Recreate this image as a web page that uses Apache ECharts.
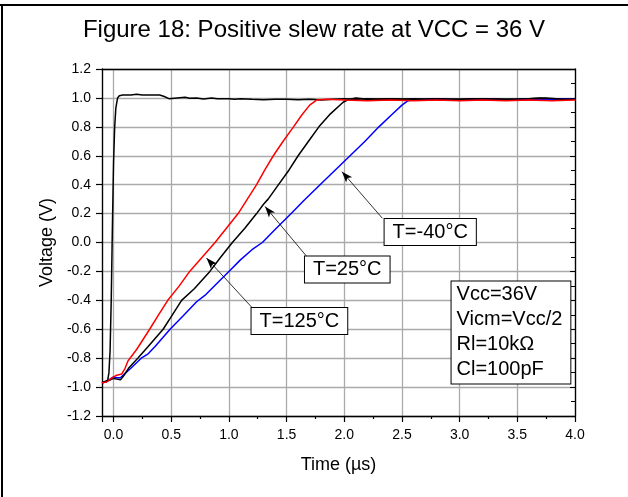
<!DOCTYPE html>
<html>
<head>
<meta charset="utf-8">
<script src="https://cdn.jsdelivr.net/npm/echarts@6/dist/echarts.min.js"></script>
<style>html,body{margin:0;padding:0;background:#fff;}#c{width:628px;height:497px;}</style>
</head>
<body>
<div id="c"></div>
<script>
// ---- data (time in µs, voltage in V) ----
const inputStep = [[-0.1,-0.97],[-0.07,-0.965],[-0.05,-0.95],[-0.04,-0.9],[-0.03,-0.75],[-0.02,-0.4],[-0.01,0.1],[0.0,0.55],[0.01,0.8],[0.02,0.93],[0.035,1.0],[0.05,1.015],[0.08,1.02],[0.15,1.02],[0.2,1.025],[0.25,1.02],[0.3,1.02],[0.35,1.02],[0.4,1.02],[0.44,1.01],[0.48,0.995],[0.55,1.0],[0.62,1.005],[0.66,0.998],[0.72,1.0],[0.78,0.993],[0.85,1.0],[0.9,0.995],[1.0,0.995],[1.05,0.99],[1.1,0.995],[1.2,0.99],[1.3,0.987],[1.4,0.99],[1.5,0.99],[1.6,0.987],[1.7,0.99],[1.8,0.985],[1.9,0.99],[2.0,0.995],[2.1,0.99],[2.2,0.995],[2.3,0.99],[2.4,0.993],[2.5,0.99],[2.6,0.995],[2.7,0.99],[2.8,0.995],[2.9,0.99],[3.0,0.99],[3.1,0.995],[3.2,0.99],[3.3,0.993],[3.4,0.99],[3.5,0.99],[3.6,0.995],[3.7,1.0],[3.8,0.99],[3.9,0.995],[4.0,0.99]];
const out125 = [[-0.1,-0.97],[-0.06,-0.965],[-0.02,-0.94],[0.02,-0.92],[0.07,-0.91],[0.1,-0.87],[0.125,-0.82],[0.2,-0.74],[0.313,-0.6],[0.39,-0.5],[0.47,-0.4],[0.57,-0.3],[0.66,-0.2],[0.77,-0.1],[0.88,0.0],[0.98,0.1],[1.08,0.2],[1.16,0.3],[1.24,0.4],[1.31,0.5],[1.385,0.6],[1.47,0.7],[1.56,0.8],[1.63,0.88],[1.7,0.95],[1.76,0.985],[1.85,0.99],[2.0,0.985],[2.2,0.98],[2.4,0.985],[2.6,0.98],[2.8,0.985],[3.0,0.98],[3.2,0.985],[3.4,0.98],[3.6,0.985],[3.8,0.98],[4.0,0.985]];
const out25 = [[-0.1,-0.97],[-0.07,-0.96],[-0.04,-0.955],[0.0,-0.94],[0.03,-0.945],[0.06,-0.95],[0.09,-0.92],[0.13,-0.87],[0.21,-0.8],[0.3,-0.72],[0.43,-0.6],[0.51,-0.5],[0.59,-0.4],[0.7,-0.32],[0.835,-0.2],[0.93,-0.1],[1.03,0.0],[1.14,0.1],[1.24,0.2],[1.3,0.265],[1.34,0.3],[1.43,0.4],[1.52,0.5],[1.6,0.6],[1.69,0.7],[1.78,0.8],[1.88,0.89],[1.99,0.97],[2.04,0.99],[2.1,1.0],[2.2,0.99],[2.4,0.995],[2.6,0.99],[2.8,0.995],[3.0,0.99],[3.2,0.995],[3.4,0.99],[3.6,0.995],[3.75,1.0],[3.9,0.99],[4.0,0.99]];
const outM40 = [[-0.1,-0.97],[-0.07,-0.965],[-0.04,-0.95],[0.0,-0.93],[0.03,-0.935],[0.06,-0.935],[0.1,-0.905],[0.15,-0.87],[0.24,-0.8],[0.3,-0.77],[0.36,-0.72],[0.49,-0.6],[0.6,-0.51],[0.72,-0.41],[0.8,-0.36],[0.9,-0.28],[1.0,-0.2],[1.1,-0.12],[1.2,-0.05],[1.29,0.0],[1.4,0.09],[1.54,0.2],[1.65,0.29],[1.79,0.4],[1.92,0.5],[2.05,0.6],[2.18,0.7],[2.3,0.8],[2.42,0.89],[2.5,0.95],[2.55,0.98],[2.6,0.985],[2.8,0.99],[3.0,0.985],[3.2,0.99],[3.4,0.985],[3.6,0.99],[3.8,0.99],[3.9,0.995],[4.0,0.99]];

// annotation anchors (data coords)
const labels = [
  {text:'T=-40°C', at:[2.745,0.072], from:[2.33,0.168], to:[1.98,0.49]},
  {text:'T=25°C',  at:[2.026,-0.187], from:[1.67,-0.092], to:[1.313,0.249]},
  {text:'T=125°C', at:[1.611,-0.543], from:[1.197,-0.447], to:[0.806,-0.108]}
];
const infoLines = ['Vcc=36V','Vicm=Vcc/2','Rl=10kΩ','Cl=100pF'];
const infoAt = [2.93,-0.622];

const FONT = '"Liberation Sans", Arial, Helvetica, sans-serif';
const chart = echarts.init(document.getElementById('c'), null, {renderer:'canvas'});

const arrowLines = labels.map(l => [
  {coord:l.from, symbol:'none'},
  {coord:l.to, symbol:'arrow', symbolSize:[6,11]}
]);
const labelPoints = labels.map(l => ({
  coord:l.at, value:l.text,
  label:{formatter:l.text}
}));
labelPoints.push({coord:infoAt, value:'info', label:{formatter:infoLines.join('\n'), align:'left', lineHeight:25, padding:[2,8,0,5]}});

chart.setOption({
  animation:false,
  backgroundColor:'#fff',
  textStyle:{fontFamily:FONT},
  title:{text:'Figure 18: Positive slew rate at VCC = 36 V', left:'center', top:13,
    textStyle:{fontSize:24, fontWeight:'normal', color:'#000', fontFamily:FONT}},
  grid:{left:102, right:53, top:69, bottom:81},
  xAxis:[{
    type:'value', min:-0.1, max:4.0, splitNumber:8,
    name:'Time (µs)', nameLocation:'middle', nameGap:40,
    nameTextStyle:{fontSize:18, color:'#000', fontFamily:FONT},
    axisLine:{show:true, onZero:false, lineStyle:{color:'#000', width:1.3}},
    axisTick:{show:true, inside:false, length:6, lineStyle:{color:'#000', width:1.2}},
    minorTick:{show:true, splitNumber:2, length:3, lineStyle:{color:'#000', width:1.2}},
    axisLabel:{fontSize:14, color:'#000', margin:12, showMinLabel:false, fontFamily:FONT,
      formatter:v => v.toFixed(1)},
    splitLine:{show:true, lineStyle:{color:'#aaaaaa', width:1.3}}
  },{
    type:'value', position:'top', min:-0.1, max:4.0, splitNumber:8,
    axisLine:{show:true, onZero:false, lineStyle:{color:'#000', width:1.3}},
    axisTick:{show:false}, axisLabel:{show:false}, splitLine:{show:false}
  }],
  yAxis:[{
    type:'value', min:-1.2, max:1.2, interval:0.2,
    name:'Voltage (V)', nameLocation:'middle', nameGap:38,
    nameTextStyle:{fontSize:18, color:'#000', fontFamily:FONT},
    axisLine:{show:true, onZero:false, lineStyle:{color:'#000', width:1.3}},
    axisTick:{show:true, inside:false, length:6, lineStyle:{color:'#000', width:1.2}},
    axisLabel:{fontSize:14, color:'#000', margin:11, fontFamily:FONT, formatter:v => v.toFixed(1)},
    splitLine:{show:true, lineStyle:{color:'#aaaaaa', width:1.3}}
  },{
    type:'value', position:'right', min:-1.2, max:1.2, interval:0.2,
    axisLine:{show:true, onZero:false, lineStyle:{color:'#000', width:1.3}},
    axisTick:{show:true, inside:true, length:5, lineStyle:{color:'#000', width:1}},
    minorTick:{show:true, splitNumber:2, length:4, lineStyle:{color:'#000', width:1}},
    axisLabel:{show:false}, splitLine:{show:false}
  }],
  series:[
    {name:'input', type:'line', data:inputStep, showSymbol:false, symbol:'none',
      lineStyle:{color:'#000', width:1.5}, z:3},
    {name:'T=-40°C', type:'line', data:outM40, showSymbol:false, symbol:'none',
      lineStyle:{color:'#0000ff', width:1.5}, z:3},
    {name:'T=25°C', type:'line', data:out25, showSymbol:false, symbol:'none',
      lineStyle:{color:'#000', width:1.5}, z:4},
    {name:'T=125°C', type:'line', data:out125, showSymbol:false, symbol:'none',
      lineStyle:{color:'#ff0000', width:1.5}, z:5,
      markLine:{silent:true, symbol:['none','arrow'], label:{show:false},
        lineStyle:{color:'#000', width:0.8, type:'solid'}, emphasis:{disabled:true},
        data:arrowLines},
      markPoint:{silent:true, symbol:'rect', symbolSize:0.01,
        label:{show:true, position:'inside', color:'#000', fontSize:20, fontFamily:FONT,
          backgroundColor:'#fff', borderColor:'#000', borderWidth:1, padding:[2,8,2,8], lineHeight:22},
        emphasis:{disabled:true},
        data:labelPoints}
    }
  ],
  graphic:[
    {type:'line', shape:{x1:0, y1:5, x2:628, y2:5}, style:{stroke:'#000', lineWidth:2}, z:100},
    {type:'line', shape:{x1:2, y1:4, x2:2, y2:497}, style:{stroke:'#000', lineWidth:2}, z:100}
  ]
});
</script>
</body>
</html>
